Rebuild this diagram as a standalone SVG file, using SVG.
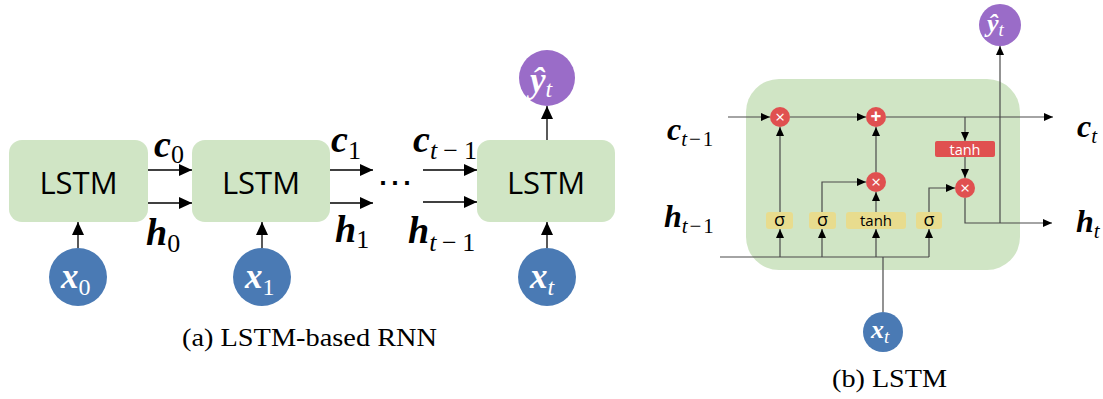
<svg xmlns="http://www.w3.org/2000/svg" width="1103" height="399" viewBox="0 0 1103 399">
  <defs>
    <marker id="arrowL" markerUnits="userSpaceOnUse" markerWidth="13" markerHeight="12" refX="13" refY="6" orient="auto">
      <path d="M0,0 L13,6 L0,12 z" fill="#000"/>
    </marker>
    <marker id="arrowS" markerUnits="userSpaceOnUse" markerWidth="9" markerHeight="8" refX="9" refY="4" orient="auto">
      <path d="M0,0 L9,4 L0,8 z" fill="#000"/>
    </marker>
    <style>
      .cell { fill: #d0e5c5; }
      .lbl { font-family: "Open Sans", "Noto Sans", sans-serif; fill: #000; }
      .m { font-family: "Liberation Serif", serif; font-weight: bold; font-style: italic; }
      .sub { font-family: "Liberation Serif", serif; font-weight: normal; }
      .it { font-style: italic; }
      .cap { font-family: "Liberation Serif", serif; font-size: 25px; fill: #000; }
      .inp { fill: #4a7ab4; }
      .out { fill: #9a6cc8; }
      .white { fill: #fff; }
      .conL line, .conL path { stroke: #000; stroke-width: 1.3; fill: none; marker-end: url(#arrowL); }
      .conS line, .conS path { stroke: #4a4a4a; stroke-width: 1.2; fill: none; }
      .ar { marker-end: url(#arrowS); }
      .op { fill: #e05050; }
      .gate { fill: #e8dc8e; }
    </style>
  </defs>
  <rect width="1103" height="399" fill="#fff"/>

  <!-- (a) unrolled RNN -->
  <g id="lstm0">
    <rect class="cell" x="9" y="140" width="139" height="82" rx="13"/>
    <text class="lbl" x="78.5" y="194" font-size="31" text-anchor="middle">LSTM</text>
  </g>
  <g id="lstm1">
    <rect class="cell" x="192" y="140" width="138" height="82" rx="13"/>
    <text class="lbl" x="261" y="194" font-size="31" text-anchor="middle">LSTM</text>
  </g>
  <g id="lstmT">
    <rect class="cell" x="477" y="140" width="138" height="82" rx="13"/>
    <text class="lbl" x="546" y="194" font-size="31" text-anchor="middle">LSTM</text>
  </g>
  <g id="x0">
    <circle class="inp" cx="78" cy="277" r="29"/>
    <text class="white" x="61" y="288"><tspan class="m" font-size="35">x</tspan><tspan class="sub" font-size="24" dy="7">0</tspan></text>
  </g>
  <g id="x1">
    <circle class="inp" cx="262" cy="277" r="29"/>
    <text class="white" x="245" y="288"><tspan class="m" font-size="35">x</tspan><tspan class="sub" font-size="24" dy="7">1</tspan></text>
  </g>
  <g id="xT">
    <circle class="inp" cx="547" cy="277" r="29"/>
    <text class="white" x="530" y="288"><tspan class="m" font-size="35">x</tspan><tspan class="sub it" font-size="24" dy="7">t</tspan></text>
  </g>
  <g id="yT">
    <circle class="out" cx="547" cy="78" r="28"/>
    <text class="white" x="530" y="92"><tspan class="m" font-size="35">ŷ</tspan><tspan class="sub it" font-size="24" dy="5">t</tspan></text>
  </g>

  <g id="connectors-a" class="conL">
    <line x1="148" y1="170" x2="192" y2="170"/>
    <line x1="148" y1="203" x2="192" y2="203"/>
    <line x1="330" y1="170" x2="373" y2="170"/>
    <line x1="330" y1="203" x2="373" y2="203"/>
    <line x1="423" y1="170" x2="477" y2="170"/>
    <line x1="423" y1="202" x2="477" y2="202"/>
    <line x1="78" y1="248" x2="78" y2="222"/>
    <line x1="262" y1="248" x2="262" y2="222"/>
    <line x1="547" y1="248" x2="547" y2="222"/>
    <line x1="547" y1="140" x2="547" y2="106"/>
  </g>

  <g id="labels-a">
    <text x="154" y="157"><tspan class="m" font-size="38">c</tspan><tspan class="sub" font-size="26" dy="6">0</tspan></text>
    <text x="146" y="245"><tspan class="m" font-size="38">h</tspan><tspan class="sub" font-size="26" dy="7">0</tspan></text>
    <text x="331" y="152"><tspan class="m" font-size="38">c</tspan><tspan class="sub" font-size="26" dy="7">1</tspan></text>
    <text x="335" y="242"><tspan class="m" font-size="38">h</tspan><tspan class="sub" font-size="26" dy="6">1</tspan></text>
    <text x="413" y="152"><tspan class="m" font-size="38">c</tspan><tspan class="sub" font-size="26" dy="7" textLength="47"><tspan class="it">t</tspan>−1</tspan></text>
    <text x="408" y="243"><tspan class="m" font-size="38">h</tspan><tspan class="sub" font-size="26" dy="8" textLength="46"><tspan class="it">t</tspan>−1</tspan></text>
    <text x="395" y="195" font-family="DejaVu Serif, serif" font-size="36" text-anchor="middle">⋯</text>
  </g>

  <text class="cap" x="182" y="346" textLength="255" lengthAdjust="spacingAndGlyphs">(a) LSTM-based RNN</text>

  <!-- (b) LSTM cell internals -->
  <g id="cell">
    <rect class="cell" x="746" y="79" width="274" height="191" rx="33"/>
  </g>

  <g id="connectors-b" class="conS">
    <line class="ar" x1="728" y1="117" x2="770" y2="117"/>
    <line class="ar" x1="790" y1="117" x2="866" y2="117"/>
    <line class="ar" x1="886" y1="117" x2="1053" y2="117"/>
    <path class="ar" d="M965,117 V141"/>
    <line class="ar" x1="965" y1="157" x2="965" y2="178"/>
    <path class="ar" d="M965,198 V223 H1052"/>
    <path class="ar" d="M1000,223 V46"/>
    <line class="ar" x1="780" y1="212" x2="780" y2="127"/>
    <path class="ar" d="M822,212 V182 H866"/>
    <line class="ar" x1="876" y1="212" x2="876" y2="192"/>
    <line class="ar" x1="876" y1="172" x2="876" y2="127"/>
    <path class="ar" d="M929,212 V188 H955"/>
    <path d="M720,257 H929"/>
    <line class="ar" x1="780" y1="257" x2="780" y2="229"/>
    <line class="ar" x1="822" y1="257" x2="822" y2="229"/>
    <line class="ar" x1="876" y1="257" x2="876" y2="229"/>
    <line class="ar" x1="929" y1="257" x2="929" y2="229"/>
    <line x1="883" y1="312" x2="883" y2="257"/>
  </g>

  <g id="forget-mul">
    <circle class="op" cx="780" cy="117" r="10"/>
    <text class="lbl white" x="780" y="122.5" font-size="17" text-anchor="middle">×</text>
  </g>
  <g id="cell-add">
    <circle class="op" cx="876" cy="117" r="10"/>
    <text class="lbl white" x="876" y="123" font-size="19" font-weight="bold" text-anchor="middle">+</text>
  </g>
  <g id="input-mul">
    <circle class="op" cx="876" cy="182" r="10"/>
    <text class="lbl white" x="876" y="187.5" font-size="17" text-anchor="middle">×</text>
  </g>
  <g id="output-mul">
    <circle class="op" cx="965" cy="188" r="10"/>
    <text class="lbl white" x="965" y="193.5" font-size="17" text-anchor="middle">×</text>
  </g>
  <g id="cell-tanh">
    <rect class="op" x="935" y="141" width="60" height="16" rx="2"/>
    <text class="lbl white" x="965" y="154.5" font-size="14.5" text-anchor="middle">tanh</text>
  </g>
  <g id="forget-gate">
    <rect class="gate" x="766" y="212" width="27" height="17" rx="3"/>
    <text class="lbl" x="779.5" y="226" font-size="18" text-anchor="middle">σ</text>
  </g>
  <g id="input-gate">
    <rect class="gate" x="809" y="212" width="27" height="17" rx="3"/>
    <text class="lbl" x="822.5" y="226" font-size="18" text-anchor="middle">σ</text>
  </g>
  <g id="candidate">
    <rect class="gate" x="846" y="212" width="60" height="17" rx="3"/>
    <text class="lbl" x="876" y="225.5" font-size="15" text-anchor="middle">tanh</text>
  </g>
  <g id="output-gate">
    <rect class="gate" x="916" y="212" width="26" height="17" rx="3"/>
    <text class="lbl" x="929" y="226" font-size="18" text-anchor="middle">σ</text>
  </g>
  <g id="x-in">
    <circle class="inp" cx="883" cy="332" r="20"/>
    <text class="white" x="871" y="338"><tspan class="m" font-size="26">x</tspan><tspan class="sub it" font-size="19" dy="5">t</tspan></text>
  </g>
  <g id="y-out">
    <circle class="out" cx="1000" cy="25" r="21"/>
    <text class="white" x="987" y="32"><tspan class="m" font-size="26">ŷ</tspan><tspan class="sub it" font-size="19" dy="4">t</tspan></text>
  </g>

  <g id="labels-b">
    <text x="667" y="140"><tspan class="m" font-size="32">c</tspan><tspan class="sub" font-size="21" dy="6" textLength="32"><tspan class="it">t</tspan>−1</tspan></text>
    <text x="664" y="227"><tspan class="m" font-size="32">h</tspan><tspan class="sub" font-size="21" dy="6" textLength="32"><tspan class="it">t</tspan>−1</tspan></text>
    <text x="1077" y="137"><tspan class="m" font-size="32">c</tspan><tspan class="sub it" font-size="21" dy="6">t</tspan></text>
    <text x="1076" y="232"><tspan class="m" font-size="32">h</tspan><tspan class="sub it" font-size="21" dy="6">t</tspan></text>
  </g>

  <text class="cap" x="832" y="387" textLength="115" lengthAdjust="spacingAndGlyphs">(b) LSTM</text>
</svg>
